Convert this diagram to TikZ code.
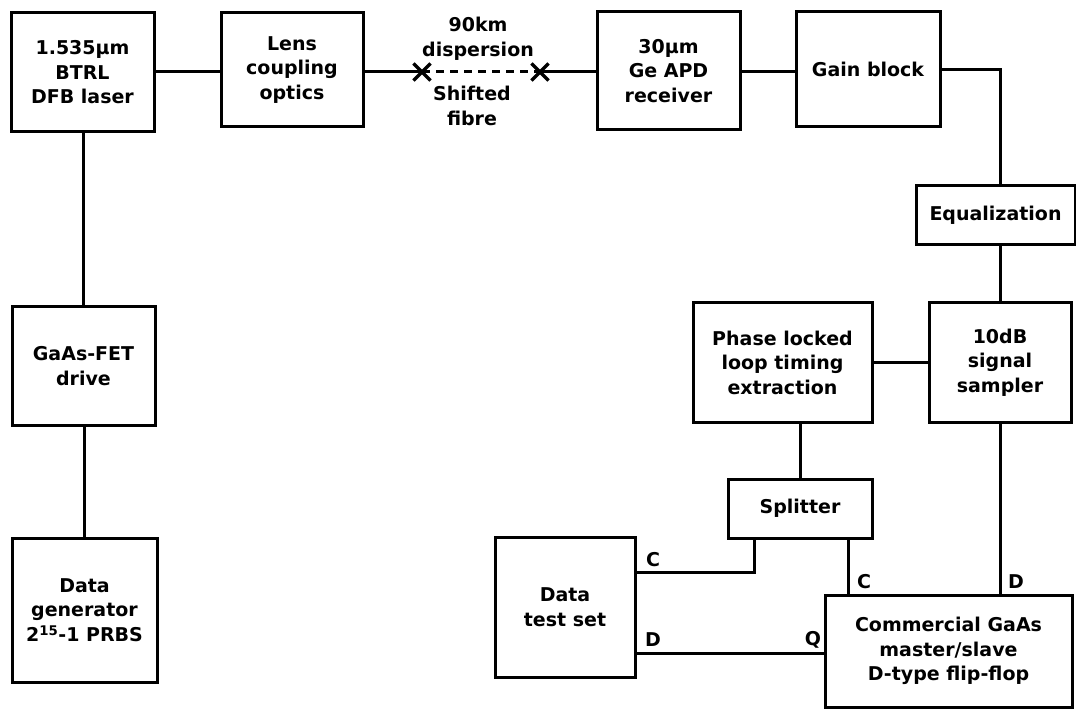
\documentclass[tikz,border=0pt]{standalone}
\usepackage{fontspec}
\setmainfont{DejaVu Sans}
\usetikzlibrary{shapes.misc}
\newfontfamily\lblfont{DejaVu Sans Bold}
\begin{document}
\begin{tikzpicture}[x=1pt,y=-1pt,
  every node/.style={font=\lblfont\fontsize{19}{24.5}\selectfont},
  box/.style={draw, line width=3pt, align=center, inner sep=0pt},
  wire/.style={line width=3pt},
  xmark/.style={draw, cross out, line width=3.2pt, minimum size=14pt, inner sep=0pt},
  pinlbl/.style={inner sep=0pt}]
\useasboundingbox (0,0) rectangle (1076,711);
% boxes
\node[box, minimum width=143pt, minimum height=119pt] (laser) at (82.5,72.5) {1.535µm\\BTRL\\DFB laser};
\node[box, minimum width=142pt, minimum height=114pt] (lens) at (292,70) {Lens\\coupling\\optics};
\node[box, minimum width=143pt, minimum height=118pt] (apd) at (668.5,71) {30µm\\Ge APD\\receiver};
\node[box, minimum width=144pt, minimum height=115pt] (gain) at (868,69.5) {Gain block};
\node[box, minimum width=159pt, minimum height=59pt] (equal) at (995.5,215.5) {Equalization};
\node[box, minimum width=179pt, minimum height=119pt] (pll) at (782.5,362.5) {Phase locked\\loop timing\\extraction};
\node[box, minimum width=142pt, minimum height=119pt] (sampler) at (1000,362.5) {10dB\\signal\\sampler};
\node[box, minimum width=144pt, minimum height=59pt] (splitter) at (800,508.5) {Splitter};
\node[box, minimum width=140pt, minimum height=140pt] (dts) at (565,607) {Data\\test set};
\node[box, minimum width=247pt, minimum height=112pt] (ff) at (948.5,651) {Commercial GaAs\\master/slave\\D-type flip-flop};
\node[box, minimum width=143pt, minimum height=118pt] (fet) at (83.5,366) {GaAs-FET\\drive};
\node[box, minimum width=145pt, minimum height=144pt] (gen) at (84.5,610) {Data\\generator\\2\textsuperscript{15}-1 PRBS};
% fibre
\node[xmark] (x1) at (422,72) {};
\node[xmark] (x2) at (540,72) {};
\node (fibtop) at (478,39) [align=center] {90km\\dispersion};
\node (fibbot) at (472,106) [align=center] {Shifted\\fibre};
% coordinates
\coordinate (row72) at (0,72);
\coordinate (spL) at (754,538);
\coordinate (spR) at (848,538);
\coordinate (cTurn) at (754,572);
\coordinate (dq) at (0,653);
% connectors
\draw[wire] (laser.east |- row72) -- (lens.west |- row72);
\draw[wire] (lens.east |- row72) -- (x1.center);
\draw[wire, dash pattern=on 8pt off 6pt] (x1.center) -- (x2.center);
\draw[wire] (x2.center) -- (apd.west |- row72);
\draw[wire] (apd.east |- row72) -- (gain.west |- row72);
\draw[wire] (gain.east) -| (sampler.north |- equal.north);
\draw[wire] (sampler.north |- equal.south) -- (sampler.north);
\draw[wire] (pll.east |- sampler.west) -- (sampler.west);
\draw[wire] (splitter.north |- pll.south) -- (splitter.north);
\draw[wire] (spL) -- (cTurn) -- (cTurn -| dts.east);
\draw[wire] (spR) -- (spR |- ff.north);
\draw[wire] (sampler.south) -- (sampler.south |- ff.north);
\draw[wire] (dts.east |- dq) -- (ff.west |- dq);
\draw[wire] (laser.south -| 83,0) -- (fet.north -| 83,0);
\draw[wire] (fet.south -| gen.north) -- (gen.north);
% pin labels
\node[pinlbl] (lc1) at (653,560) {C};
\node[pinlbl] (ld1) at (653,640) {D};
\node[pinlbl] (lq) at (813,640) {Q};
\node[pinlbl] (lc2) at (864,582) {C};
\node[pinlbl] (ld2) at (1016,582) {D};
\end{tikzpicture}
\end{document}
